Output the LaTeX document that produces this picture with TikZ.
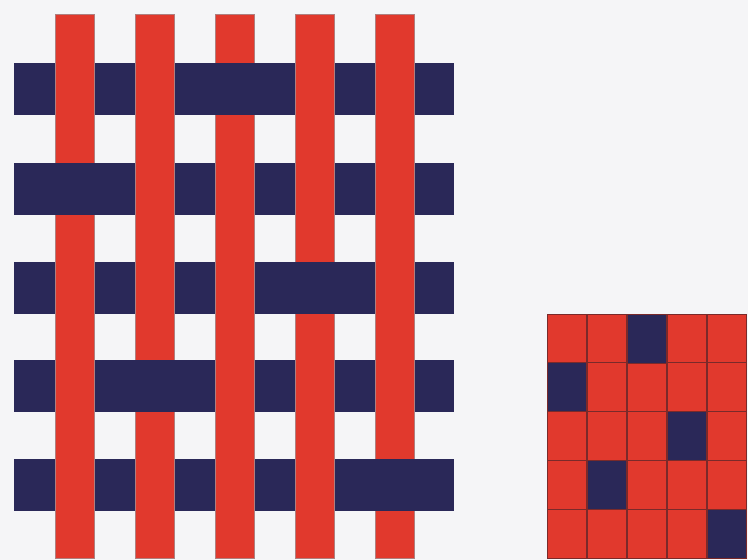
\documentclass[tikz,border=0pt]{standalone}
\definecolor{bgc}{HTML}{F5F5F7}
\definecolor{warpred}{HTML}{E1392D}
\definecolor{weftnavy}{HTML}{2A2858}
\definecolor{edgedark}{HTML}{7A2A2A}
\tikzset{
  weft/.style={fill=weftnavy, draw=none},
  warp/.style={fill=warpred, draw=edgedark!60, line width=0.6pt},
  cellred/.style={fill=warpred, draw=edgedark, line width=0.8pt},
  cellnavy/.style={fill=weftnavy, draw=edgedark, line width=0.8pt}
}
\begin{document}
\begin{tikzpicture}[x=1pt,y=-1pt]
\fill[bgc] (0,0) rectangle (748,560);
\useasboundingbox (0,0) rectangle (748,560);
% weft rows
\foreach \t in {63,163,262,360,459}{
  \fill[weft] (14,\t) rectangle (454,\t+52);
}
% warp stripes
\foreach \l in {55,135,215,295,375}{
  \filldraw[warp] (\l,14) rectangle (\l+39,558);
}
% weft over warp
\foreach \t/\l in {63/215,163/55,262/295,360/135,459/375}{
  \fill[weft] (\l-1,\t) rectangle (\l+40,\t+52);
}
% draft grid
\foreach \r/\y in {1/314,2/362,3/411,4/460,5/509}{
  \foreach \c/\x in {1/547,2/587,3/627,4/667,5/707}{
    \filldraw[cellred] (\x,\y) rectangle (\x+39.5,\y+49);
  }
}
\foreach \x/\y in {627/314,547/362,667/411,587/460,707/509}{
  \filldraw[cellnavy] (\x,\y) rectangle (\x+39.5,\y+49);
}
\end{tikzpicture}
\end{document}
